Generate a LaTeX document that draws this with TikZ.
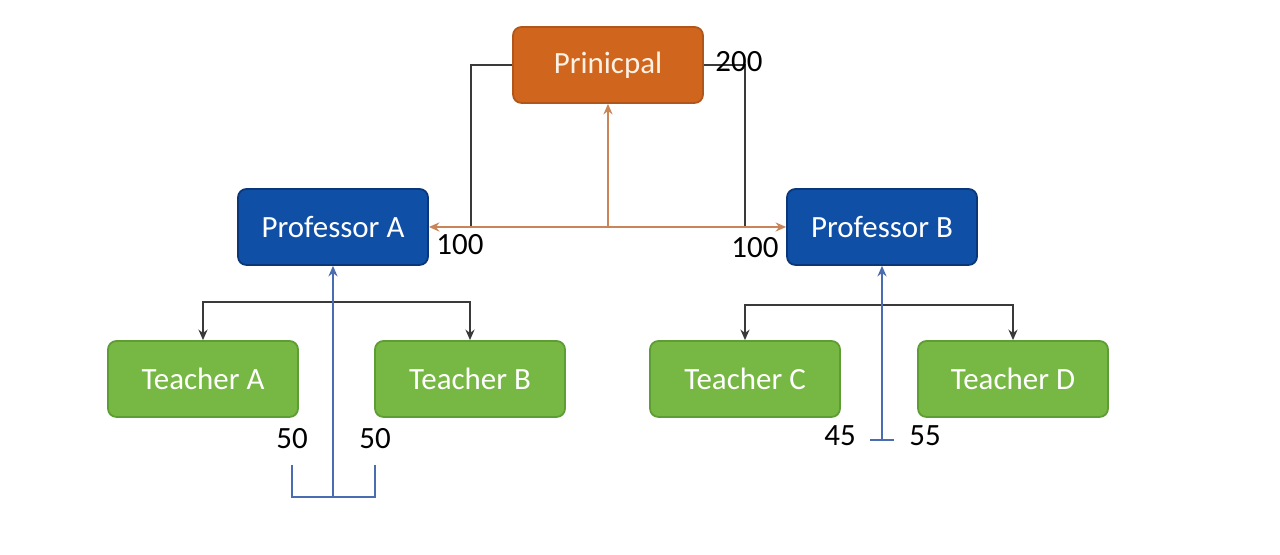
\documentclass[tikz,border=0pt]{standalone}
\usepackage{fontspec}
\setmainfont{Carlito}
\usepackage{tikz}
\usetikzlibrary{positioning,arrows.meta}

\definecolor{prinorange}{HTML}{D0661E}
\definecolor{prinedge}{HTML}{B0561A}
\definecolor{profblue}{HTML}{0F4FA6}
\definecolor{profedge}{HTML}{0A3778}
\definecolor{teachgreen}{HTML}{76B843}
\definecolor{teachedge}{HTML}{5E9C34}
\definecolor{linkorange}{HTML}{C98458}
\definecolor{linkblue}{HTML}{4A6CB0}
\definecolor{linkgrey}{HTML}{3A3A3A}

\begin{document}
\begin{tikzpicture}[x=0.1mm, y=-0.1mm, font=\fontsize{8.8}{10}\selectfont]
        \tikzstyle{box}=[rounded corners=2.4pt, minimum width=19mm, minimum height=7.6mm, line width=0.5pt, text=white]
        \tikzstyle{prinbox}=[box, fill=prinorange, draw=prinedge, text=orange!10]
        \tikzstyle{profbox}=[box, fill=profblue, draw=profedge]
        \tikzstyle{teachbox}=[box, fill=teachgreen, draw=teachedge]
        \tikzstyle{tree}=[draw=linkgrey, line width=0.45pt, -{Stealth[length=3pt, width=2.6pt]}]
        \tikzstyle{plain}=[draw=linkgrey, line width=0.45pt]
        \tikzstyle{pay}=[draw=linkorange, line width=0.6pt]
        \tikzstyle{split}=[draw=linkblue, line width=0.6pt]
        \tikzstyle{amount}=[text=black, inner sep=0pt]

        \useasboundingbox (0,0) rectangle (1280,555);

        % boxes
        \node (prin)   [prinbox]  at (608,65)  {Prinicpal};
        \node (profA)  [profbox]  at (333,227) {Professor A};
        \node (profB)  [profbox]  at (882,227) {Professor B};
        \node (teachA) [teachbox] at (203,379) {Teacher A};
        \node (teachB) [teachbox] at (470,379) {Teacher B};
        \node (teachC) [teachbox] at (745,379) {Teacher C};
        \node (teachD) [teachbox] at (1013,379) {Teacher D};

        % junctions
        \coordinate (joinL)  at (471,228);
        \coordinate (joinR)  at (745,228);
        \coordinate (joinM)  at (608,228);
        \coordinate (forkA)  at (333,302);
        \coordinate (forkB)  at (882,305);
        \coordinate (footA)  at (333,497);
        \coordinate (footAl) at (292,465);
        \coordinate (footAr) at (375,465);
        \coordinate (footB)  at (882,440);
        \coordinate (tickBl) at (870,440);
        \coordinate (tickBr) at (894,440);

        % principal to the split line
        \draw[plain] (prin.west) -| (joinL);
        \draw[plain] (prin.east) -| (joinR);
        \draw[pay, {Stealth[length=3pt, width=2.6pt]}-{Stealth[length=3pt, width=2.6pt]}] (profA.east) -- (profB.west);
        \draw[pay, -{Stealth[length=3pt, width=2.6pt]}] (joinM) -- (prin.south);

        % professors to teachers
        \draw[tree] (forkA) -| (teachA.north);
        \draw[tree] (forkA) -| (teachB.north);
        \draw[tree] (forkB) -| (teachC.north);
        \draw[tree] (forkB) -| (teachD.north);

        % shares
        \draw[split, -{Stealth[length=3pt, width=2.6pt]}] (footA) -- (profA.south);
        \draw[split] (footAl) |- (footA) -| (footAr);
        \draw[split, -{Stealth[length=3pt, width=2.6pt]}] (footB) -- (profB.south);
        \draw[split] (tickBl) -- (tickBr);

        % amounts
        \node (amtP)  [amount] at (739,62)  {200};
        \node (amtA)  [amount] at (460,245) {100};
        \node (amtB)  [amount] at (755,248) {100};
        \node (amtTA) [amount] at (292,439) {50};
        \node (amtTB) [amount] at (375,439) {50};
        \node (amtTC) [amount] at (840,436) {45};
        \node (amtTD) [amount] at (925,436) {55};

    \end{tikzpicture}
\end{document}
